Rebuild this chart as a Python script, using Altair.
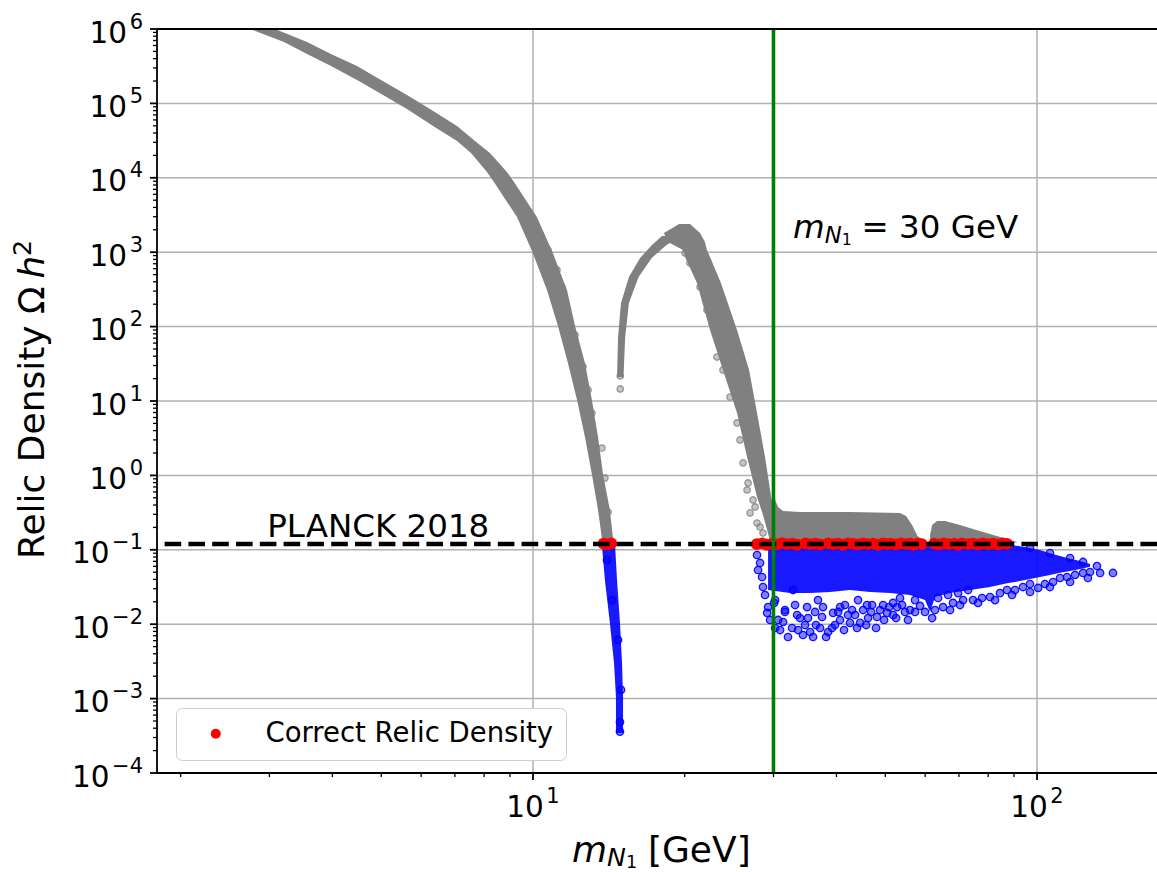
import altair as alt
import pandas as pd

# ------------------------------------------------------------------
# Values (m_N1 in GeV, relic density Omega h^2)
# ------------------------------------------------------------------
PLANCK_OMEGA = 0.12          # PLANCK 2018 value
M_REFERENCE = 30.0           # reference mass line
GRAY_FLOOR = 0.125           # lower edge of the over-abundant region
LEGEND_LABEL = "Correct Relic Density"

# light branch, over-abundant part: per Omega h^2 row, lowest / highest mass of the dense band
light_omega = [0.125, 0.144, 0.343, 1.04, 3.28, 10.3, 32.4, 102, 310, 1.04e3, 2.97e3, 8.79e3,
               1.20e4, 2.15e4, 3.12e4, 4.97e4, 8.41e4, 1.30e5, 2.06e5, 3.18e5, 4.61e5, 6.68e5, 1.0e6]
light_m_lo = [13.77, 13.70, 13.46, 13.09, 12.68, 12.23, 11.73, 11.21, 10.66, 9.954, 9.296, 8.367,
              8.103, 7.534, 7.068, 6.334, 5.623, 5.040, 4.476, 3.974, 3.562, 3.206, 2.745]
light_m_hi = [14.41, 14.41, 14.21, 13.77, 13.46, 13.09, 12.68, 12.12, 11.68, 10.91, 10.18, 9.17,
              8.878, 8.216, 7.672, 7.068, 6.247, 5.623, 4.994, 4.476, 3.974, 3.562, 3.077]

# rising side of the resonance arch
rise_omega = [21.0, 72.4, 208, 464, 835, 1.25e3, 1.65e3]
rise_m_lo = [14.68, 14.75, 14.95, 15.50, 16.31, 17.22, 18.03]
rise_m_hi = [15.12, 15.24, 15.50, 16.20, 17.20, 18.40, 19.76]

# falling side of the resonance arch
fall_omega = [0.131, 0.185, 0.294, 0.513, 1.77, 6.90, 26.1, 90, 385, 861, 1.07e3, 1.37e3, 1.81e3, 2.39e3]
fall_m_lo = [29.54, 29.14, 28.60, 27.83, 26.59, 25.40, 23.82, 22.45, 21.15, 20.03, 19.85, 18.53, 18.19, 19.49]
fall_m_hi = [30.50, 30.36, 30.23, 29.68, 28.87, 27.83, 26.84, 25.40, 23.60, 22.45, 22.14, 21.94, 21.45, 20.49]

# plateau above the PLANCK value, 30 - 59 GeV
plateau_m = [29.81, 30.23, 30.64, 31.35, 33.87, 42.56, 53.48, 54.97, 56.49, 57.80, 58.87]
plateau_top = [0.867, 0.467, 0.376, 0.332, 0.322, 0.322, 0.313, 0.285, 0.216, 0.158, 0.131]

# second bump above the PLANCK value, 61 - 91 GeV
bump_m = [61.36, 61.92, 63.34, 65.70, 70.35, 74.65, 80.68, 87.2, 91.26]
bump_top = [0.158, 0.216, 0.244, 0.244, 0.216, 0.190, 0.163, 0.140, 0.127]

# under-abundant tail of the light branch
tail_omega = [3.45e-4, 1.05e-3, 3.01e-3, 1.04e-2, 3.93e-2, 0.116]
tail_m_lo = [14.61, 14.61, 14.48, 14.21, 13.89, 13.70]
tail_m_hi = [15.09, 15.09, 15.02, 14.88, 14.68, 14.55]

# dense under-abundant cloud above 29 GeV
core_m = [29.27, 32.36, 35.46, 38.85, 42.56, 46.65, 51.10, 55.98, 59.95, 61.36, 62.76, 67.22,
          73.65, 80.68, 87.2, 92.53, 96.85, 101.4, 106.1, 111.1, 116.3, 121.7, 127.4]
core_top = [0.118, 0.118, 0.118, 0.118, 0.118, 0.118, 0.118, 0.118, 0.118, 0.118, 0.118, 0.118,
            0.118, 0.118, 0.118, 0.112, 0.106, 0.0993, 0.090, 0.0826, 0.076, 0.0707, 0.0645]
core_bottom = [0.0288, 0.0262, 0.0262, 0.0271, 0.0288, 0.0271, 0.0262, 0.0247, 0.0211, 0.0146, 0.0232, 0.0262,
               0.0288, 0.0316, 0.0355, 0.0380, 0.0405, 0.043, 0.0459, 0.049, 0.0519, 0.055, 0.059]

# scattered under-abundant points
blue_m = [27.83, 28.22, 27.96, 28.48, 28.87, 28.6, 29.27, 29.14, 29.54,
          30.64, 30.92, 32.06, 33.57, 34.66, 35.46, 35.95, 37.12, 38.50, 39.74, 40.67,
          42.56, 43.55, 44.56, 46.22, 48.15, 50.41, 52.77, 54.72, 55.98, 58.60,
          59.95, 61.92, 65.10, 68.13, 71.34, 74.65, 77.79, 80.68, 84.44, 87.2,
          90.42, 93.80, 96.85, 100.5, 103.7, 107.6, 111.1, 114.7, 119.0, 123.4,
          127.4, 133.4, 141.5,
          131.5, 123.4, 116.3, 106.1, 96.85,
          32.81, 34.98, 37.62, 40.67, 46.0, 48.82, 51.81, 31.62, 30.09,
          30.23, 31.62, 33.11, 33.87, 36.28, 36.77, 39.39, 41.59, 42.17, 44.15,
          45.18, 47.07, 49.50, 51.81, 53.48, 57.28, 63.63, 66.61, 69.72, 72.99,
          30.23, 31.35, 32.66, 33.42, 34.33, 35.13, 36.43, 37.46, 38.15, 39.2, 40.31,
          41.41, 42.96, 43.95, 45.8, 46.86, 47.94, 49.73, 50.88, 52.53, 53.98, 55.46,
          57.28, 62.76, 67.22, 70.35, 76.38, 82.55, 89.22, 96.85, 106.1, 116.3, 126.2,
          14.88, 14.02, 14.35, 14.75, 14.95, 14.88]
blue_omega = [0.0851, 0.0665, 0.0535, 0.0431, 0.0247, 0.0316, 0.0170, 0.0142, 0.0114,
              0.0114, 0.00835, 0.00673, 0.00835, 0.00975, 0.00785, 0.00673, 0.00889, 0.00785, 0.00975, 0.0114,
              0.0104, 0.0133, 0.0104, 0.0121, 0.0125, 0.0142, 0.0170, 0.0146, 0.0155, 0.0176,
              0.0146, 0.0121, 0.0170, 0.0193, 0.0211, 0.0211, 0.0225, 0.0232, 0.0262, 0.0288,
              0.0288, 0.0316, 0.0347, 0.0307, 0.0347, 0.0369, 0.0418, 0.0431, 0.0459, 0.0488,
              0.0503, 0.0488, 0.0488,
              0.0605, 0.0686, 0.0776, 0.0906, 0.106,
              0.0288, 0.0170, 0.0170, 0.0170, 0.0181, 0.0155, 0.0193, 0.0155, 0.0193,
              0.0211, 0.0146, 0.0181, 0.0121, 0.0146, 0.0211, 0.0142, 0.0181, 0.0133, 0.0211,
              0.0155, 0.0181, 0.0181, 0.0133, 0.0225, 0.0211, 0.0225, 0.0247, 0.0262, 0.0288,
              0.00889, 0.0107, 0.00889, 0.0133, 0.00716, 0.0121, 0.00975, 0.0125, 0.00673, 0.00889, 0.0146,
              0.00835, 0.0155, 0.00889, 0.00975, 0.0146, 0.00889, 0.0114, 0.0170, 0.0121, 0.0181, 0.0114,
              0.0146, 0.0155, 0.0155, 0.0181, 0.0193, 0.0211, 0.0247, 0.0271, 0.0316, 0.0369, 0.0418,
              3.6e-4, 0.0729, 0.0211, 0.00614, 0.00131, 4.84e-4]

# scattered over-abundant points along the band edges
gray_m = [10.42, 10.71, 11.16, 11.41, 12.12, 12.57, 12.86, 13.09, 13.70, 13.89, 14.09,
          14.9, 14.9,
          20.03, 20.49, 21.45, 22.14, 23.18, 23.82, 24.60, 25.40, 25.75, 26.11, 26.71, 27.58, 28.22,
          26.59, 27.33, 27.83, 28.6, 26.96]
gray_omega = [1460, 1070, 577, 341, 77, 28.9, 14.1, 6.9, 2.33, 0.923, 0.322,
              21.7, 14.5,
              975, 716, 341, 167, 39, 26.1, 11.3, 5.06, 2.99, 1.47, 0.791, 0.376, 0.202,
              0.637, 0.467, 0.229, 0.168, 0.313]

# points with the correct relic density
red_m = [13.8, 14.0, 14.3,
         27.8, 28.5, 29.1, 29.8, 30.5, 31.2, 31.9, 32.7, 33.4, 34.7, 35.5, 36.3, 37.1,
         38.5, 39.4, 40.3, 41.2, 42.2, 43.2, 44.2, 45.2, 46.2, 47.3, 48.4, 49.5, 50.4,
         51.3, 52.5, 53.7, 55.0, 56.0, 57.0, 58.1, 59.1, 62.5, 63.9, 65.4, 66.6, 68.5,
         69.7, 71.0, 73.0, 74.7, 76.4, 78.1, 80.0, 81.8, 83.7, 85.6, 87.2]
red_omega = [0.121, 0.118, 0.122,
             0.119, 0.122, 0.117, 0.121, 0.118, 0.123, 0.119, 0.121, 0.117, 0.122, 0.119, 0.121, 0.118,
             0.122, 0.119, 0.121, 0.117, 0.122, 0.120, 0.118, 0.122, 0.119, 0.121, 0.117, 0.122, 0.119,
             0.121, 0.118, 0.122, 0.119, 0.121, 0.117, 0.122, 0.119, 0.121, 0.118, 0.122, 0.119, 0.121,
             0.117, 0.122, 0.119, 0.121, 0.118, 0.122, 0.119, 0.121, 0.118, 0.122, 0.120]

# tick positions; major labels are written as 10 raised to the listed exponent
x_major = [10, 100]
x_major_exp = ["1", "2"]
x_minor = [2, 3, 4, 5, 6, 7, 8, 9, 20, 30, 40, 50, 60, 70, 80, 90]
y_major = [1e-4, 1e-3, 1e-2, 1e-1, 1e0, 1e1, 1e2, 1e3, 1e4, 1e5, 1e6]
y_major_exp = ["−4", "−3", "−2", "−1", "0", "1", "2", "3", "4", "5", "6"]
y_minor = [k * 10.0 ** e for e in range(-4, 6) for k in range(2, 10)]

# ------------------------------------------------------------------
# Chart
# ------------------------------------------------------------------
FONT = "DejaVu Sans"
GRAY = "#808080"
BLUE = "#0000ff"
W, H = 1000, 744
X_SCALE = alt.Scale(type="log", domain=[1.795, 173.0], nice=False)
Y_SCALE = alt.Scale(type="log", domain=[1e-4, 1e6], nice=False)
ONE = pd.DataFrame({"k": [0]})

# tick label typography: "10" plus a raised, smaller exponent
BASE_SIZE, EXP_SIZE, EXP_GAP, EXP_RAISE = 29.5, 21.0, 2.5, 14.0
GLYPH_W = {"−": 0.838}  # advance widths in em (digits default to 0.636)


def em_width(s):
    return sum(GLYPH_W.get(c, 0.636) for c in s)


BASE_W = em_width("10") * BASE_SIZE


def xf(field):
    return alt.X(field, scale=X_SCALE, axis=None)


def yf(field):
    return alt.Y(field, scale=Y_SCALE, axis=None)


def hband(m_lo, m_hi, omega, color, opacity=1.0):
    df = pd.DataFrame({"omega": omega, "lo": m_lo, "hi": m_hi})
    return alt.Chart(df).mark_area(orient="horizontal", color=color, opacity=opacity, clip=True).encode(
        y=yf("omega:Q"), x=xf("lo:Q"), x2="hi:Q",
    )


def vband(mass, top, bottom, color, opacity=1.0):
    df = pd.DataFrame({"mass": mass, "top": top, "bottom": bottom})
    return alt.Chart(df).mark_area(orient="vertical", color=color, opacity=opacity, clip=True).encode(
        x=xf("mass:Q"), y=yf("top:Q"), y2="bottom:Q",
    )


def scatter(mass, omega, color, size, fill_opacity, stroke_opacity):
    df = pd.DataFrame({"mass": mass, "omega": omega})
    return alt.Chart(df).mark_circle(
        size=size, fill=color, fillOpacity=fill_opacity, stroke=color,
        strokeOpacity=stroke_opacity, strokeWidth=1.3, clip=True,
    ).encode(x=xf("mass:Q"), y=yf("omega:Q"))


def text_part(text, x, y, size, italic=False, dx=0, dy=0, align="left", angle=0):
    return alt.Chart(ONE).mark_text(
        text=text, font=FONT, fontSize=size, fontStyle="italic" if italic else "normal",
        align=align, baseline="alphabetic", dx=dx, dy=dy, angle=angle, color="black",
    ).encode(x=x, y=y)


def mass_label(x, y, tail, size, drops=(0.15, 0.22)):
    # "m" with the subscript "N" and its own subscript "1", followed by plain text
    s1, s2 = size * 0.7, size * 0.49
    w_m, w_n, w_1 = 0.974 * size, 0.748 * s1, 0.636 * s2
    return [
        text_part("m", x, y, size, italic=True),
        text_part("N", x, y, s1, italic=True, dx=w_m, dy=size * drops[0]),
        text_part("1", x, y, s2, dx=w_m + w_n, dy=size * drops[1]),
        text_part(tail, x, y, size, dx=w_m + w_n + w_1 + 0.3 * size),
    ]


def rules(values, channel, color, width, **enc):
    df = pd.DataFrame({"v": values})
    pos = xf("v:Q") if channel == "x" else yf("v:Q")
    return alt.Chart(df).mark_rule(color=color, strokeWidth=width).encode(**{channel: pos}, **enc)


def x_tick_labels(values, exps):
    df = pd.DataFrame({"v": values, "base": "10", "exp": exps})
    total = BASE_W + EXP_GAP + em_width(exps[0]) * EXP_SIZE
    base = alt.Chart(df).mark_text(font=FONT, fontSize=BASE_SIZE, color="black", baseline="alphabetic",
                                   align="left", dx=-total / 2).encode(
        x=xf("v:Q"), y=alt.value(H + 44), text="base:N")
    exp = alt.Chart(df).mark_text(font=FONT, fontSize=EXP_SIZE, color="black", baseline="alphabetic",
                                  align="left", dx=-total / 2 + BASE_W + EXP_GAP, dy=-EXP_RAISE).encode(
        x=xf("v:Q"), y=alt.value(H + 44), text="exp:N")
    return [base, exp]


def y_tick_labels(values, exps, right=-14, drop=13.5):
    base_x = [right - em_width(e) * EXP_SIZE - EXP_GAP for e in exps]
    df = pd.DataFrame({"v": values, "base": "10", "exp": exps, "bx": base_x})
    base = alt.Chart(df).mark_text(font=FONT, fontSize=BASE_SIZE, color="black", baseline="alphabetic",
                                   align="right", dy=drop).encode(
        y=yf("v:Q"), x=alt.X("bx:Q", scale=None, axis=None), text="base:N")
    exp = alt.Chart(df).mark_text(font=FONT, fontSize=EXP_SIZE, color="black", baseline="alphabetic",
                                  align="right", dy=drop - EXP_RAISE).encode(
        y=yf("v:Q"), x=alt.value(right), text="exp:N")
    return [base, exp]


layers = [
    # major grid
    rules(x_major, "x", "#b0b0b0", 1.5),
    rules(y_major, "y", "#b0b0b0", 1.5),
    # data
    hband(light_m_lo, light_m_hi, light_omega, GRAY),
    hband(rise_m_lo, rise_m_hi, rise_omega, GRAY),
    hband(fall_m_lo, fall_m_hi, fall_omega, GRAY),
    vband(plateau_m, plateau_top, [GRAY_FLOOR] * len(plateau_m), GRAY),
    vband(bump_m, bump_top, [GRAY_FLOOR] * len(bump_m), GRAY),
    scatter(gray_m, gray_omega, GRAY, 42, 0.45, 0.75),
    hband(tail_m_lo, tail_m_hi, tail_omega, BLUE, 0.9),
    vband(core_m, core_top, core_bottom, BLUE, 0.9),
    scatter(blue_m, blue_omega, BLUE, 55, 0.5, 0.9),
]

red_df = pd.DataFrame({"mass": red_m, "omega": red_omega, "label": LEGEND_LABEL})
layers.append(
    alt.Chart(red_df).mark_circle(size=140, opacity=1, clip=True).encode(
        x=xf("mass:Q"),
        y=yf("omega:Q"),
        color=alt.Color(
            "label:N",
            scale=alt.Scale(domain=[LEGEND_LABEL], range=["#ff0000"]),
            legend=alt.Legend(
                title=None, orient="none", legendX=19, legendY=679,
                fillColor="white", strokeColor="#cccccc", cornerRadius=6, padding=12,
                labelFont=FONT, labelFontSize=27.5, labelColor="black", labelLimit=0,
                symbolType="circle", symbolSize=100, symbolStrokeWidth=0,
                symbolOffset=14, labelOffset=36,
            ),
        ),
    )
)

# PLANCK 2018 value (dashed) and the reference mass (green)
layers.append(
    alt.Chart(ONE).mark_rule(color="black", strokeWidth=4.5, strokeDash=[16.6, 7.2]).encode(
        y=alt.YDatum(PLANCK_OMEGA, scale=Y_SCALE, axis=None)
    )
)
layers.append(
    alt.Chart(ONE).mark_rule(color="#008000", strokeWidth=3.6).encode(
        x=alt.XDatum(M_REFERENCE, scale=X_SCALE, axis=None)
    )
)

# frame (left, bottom, top) and log ticks
frame = alt.Chart(ONE).mark_rule(color="black", strokeWidth=1.8)
layers += [
    frame.encode(x=alt.value(0), y=alt.value(0), y2=alt.value(H)),
    frame.encode(x=alt.value(0), x2=alt.value(W), y=alt.value(H)),
    frame.encode(x=alt.value(0), x2=alt.value(W), y=alt.value(0)),
    rules(x_major, "x", "black", 1.8, y=alt.value(H), y2=alt.value(H + 7)),
    rules(x_minor, "x", "black", 1.3, y=alt.value(H), y2=alt.value(H + 4)),
    rules(y_major, "y", "black", 1.8, x=alt.value(-7), x2=alt.value(0)),
    rules(y_minor, "y", "black", 1.3, x=alt.value(-4), x2=alt.value(0)),
]
layers += x_tick_labels(x_major, x_major_exp)
layers += y_tick_labels(y_major, y_major_exp)

# annotations
layers.append(
    text_part("PLANCK 2018", alt.XDatum(2.97, scale=X_SCALE, axis=None),
              alt.YDatum(0.149, scale=Y_SCALE, axis=None), 32.5)
)
layers += mass_label(alt.XDatum(32.8, scale=X_SCALE, axis=None),
                     alt.YDatum(1550, scale=Y_SCALE, axis=None), "= 30 GeV", 32.5)

# axis titles
layers += mass_label(alt.value(415), alt.value(833), "[GeV]", 36, drops=(0.11, 0.16))
YT_X, YT_Y, YT_S = alt.value(-113), alt.value(530), 36
layers += [
    text_part("Relic Density Ω", YT_X, YT_Y, YT_S, angle=270),
    text_part("h", YT_X, YT_Y, YT_S, italic=True, angle=270, dx=7.79 * YT_S),
    text_part("2", YT_X, YT_Y, YT_S * 0.7, angle=270, dx=8.42 * YT_S, dy=-0.36 * YT_S),
]

chart = alt.layer(*layers).properties(
    width=W,
    height=H,
    padding={"left": 157, "top": 29, "right": 0, "bottom": 99},
    autosize=alt.AutoSizeParams(type="none"),
).configure_view(strokeWidth=0).configure(font=FONT)

chart.save("out.html", embed_options={"renderer": "svg", "actions": False})
